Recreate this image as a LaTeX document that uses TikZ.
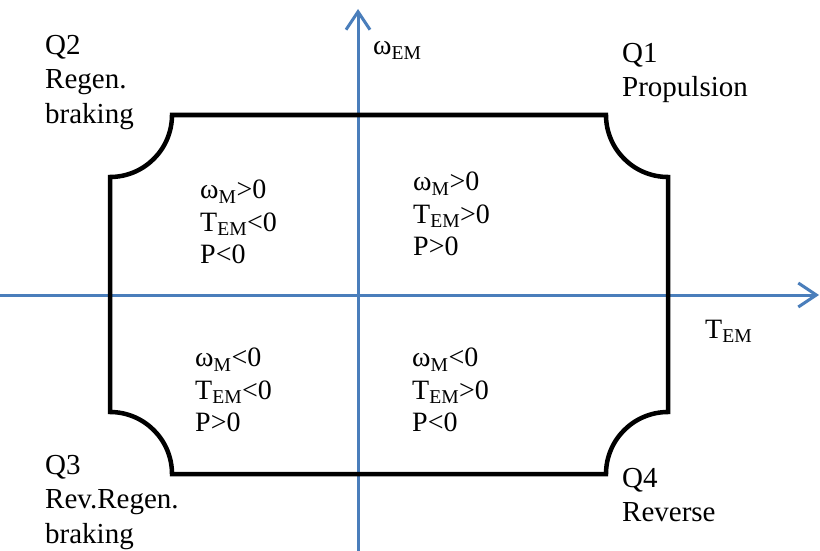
\documentclass[tikz,border=0pt]{standalone}
\usepackage{fontspec}
\setmainfont{Liberation Serif}
\usetikzlibrary{arrows.meta}
\definecolor{axisblue}{RGB}{74,126,187}

\begin{document}
\begin{tikzpicture}[x=1pt,y=-1pt,
  axis/.style={line width=3pt,axisblue,-{Straight Barb[length=18pt,width=24pt]}},
  qlabel/.style={anchor=north west,inner sep=0pt,align=left,font=\rmfamily\fontsize{29}{34.5}\selectfont},
  qsign/.style={qlabel,font=\rmfamily\fontsize{28}{32.5}\selectfont}]

%frame of the page
\useasboundingbox (0,0) rectangle (820,551);

%ends of the axes
\coordinate (wbot) at (358,551);
\coordinate (wtop) at (358,9);
\coordinate (tleft) at (0,295);
\coordinate (tright) at (819,295);

%Axes
\draw[axis] (wbot) -- (wtop);
\draw[axis] (tleft) -- (tright);

%Operating area with cut corners
\draw[line width=4.5pt,line join=miter]
  (110,177) arc[start angle=90,end angle=0,radius=62]
  -- (606,115) arc[start angle=180,end angle=90,radius=62]
  -- (668,412) arc[start angle=270,end angle=180,radius=62]
  -- (172,474) arc[start angle=360,end angle=270,radius=62]
  -- cycle;

%Axis names
\node[anchor=base west,inner sep=0pt,font=\rmfamily\fontsize{28}{34}\selectfont] (wname) at (373,55) {ω\textsubscript{EM}};
\node[anchor=base west,inner sep=0pt,font=\rmfamily\fontsize{28}{34}\selectfont] (tname) at (705,338) {T\textsubscript{EM}};

%Quadrant names
\node[qlabel] (q1) at (622,43) {Q1\\Propulsion};
\node[qlabel] (q2) at (45,35) {Q2\\Regen.\\braking};
\node[qlabel] (q3) at (45,455) {Q3\\Rev.Regen.\\braking};
\node[qlabel] (q4) at (622,468) {Q4\\Reverse};

%Signs in each quadrant
\node[qsign] (s1) at (413,172) {ω\textsubscript{M}>0\\T\textsubscript{EM}>0\\P>0};
\node[qsign] (s2) at (200,180) {ω\textsubscript{M}>0\\T\textsubscript{EM}<0\\P<0};
\node[qsign] (s3) at (195,348) {ω\textsubscript{M}<0\\T\textsubscript{EM}<0\\P>0};
\node[qsign] (s4) at (412,348) {ω\textsubscript{M}<0\\T\textsubscript{EM}>0\\P<0};

\end{tikzpicture}
\end{document}
